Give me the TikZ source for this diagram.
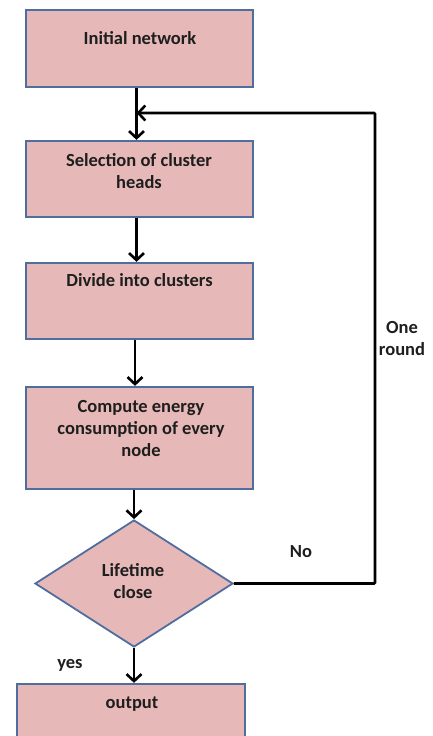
\documentclass[tikz,border=0pt]{standalone}
\usepackage{fontspec}
\setmainfont{Carlito}
\usetikzlibrary{shapes.geometric,arrows.meta}
\definecolor{boxfill}{HTML}{E6B9B8}
\definecolor{boxline}{HTML}{4F6D9E}
\definecolor{txt}{HTML}{1E1E1E}
\tikzset{
  box/.style={draw=boxline,fill=boxfill,line width=2.3pt,minimum width=227pt,inner sep=0pt},
  dia/.style={diamond,draw=boxline,fill=boxfill,line width=1.8pt,minimum width=198pt,minimum height=127pt,inner sep=0pt,aspect=1.56},
  lbl/.style={font=\bfseries\fontsize{18.5}{22}\selectfont,text=txt,align=center,inner sep=0pt,anchor=base},
  arr/.style={line width=2.6pt,black,-{Straight Barb[length=7pt,width=15pt,line width=2.6pt]}},
  ln/.style={line width=2.6pt,black}
}
\begin{document}
\begin{tikzpicture}[x=1pt,y=-1pt]
\useasboundingbox (0,0) rectangle (432,736);
\clip (0,0) rectangle (432,736);
\node[box,minimum height=77pt] (n1) at (139.5,48.5) {};
\node[box,minimum height=76pt] (n2) at (139.5,179) {};
\node[box,minimum height=76pt] (n3) at (139.5,301) {};
\node[box,minimum height=102pt] (n4) at (139.5,438) {};
\node[dia] (d) at (134,583.5) {};
\node[box,minimum width=228pt,minimum height=90pt] (n5) at (131,729) {};
\node[lbl] (t1) at (140,44) {Initial network};
\node[lbl] (t2) at (139,188) {Selection of cluster\\heads};
\node[lbl] (t3) at (139.5,286) {Divide into clusters};
\node[lbl] (t4) at (141,456) {Compute energy\\consumption of every\\node};
\node[lbl] (t5) at (133,598) {Lifetime\\close};
\node[lbl] (t6) at (132,708) {output};
\node[lbl] (one) at (402,355) {One\\round};
\node[lbl] (no) at (301,557) {No};
\node[lbl] (yes) at (70,668) {yes};
\coordinate (m) at (136.5,113);
\coordinate (corner) at (375,113);
\draw[arr] (n1.south -| m) -- (n2.north -| m);
\draw[arr] (n2.south -| m) -- (n3.north -| m);
\draw[arr] (n3.south -| 135,0) -- (n4.north -| 135,0);
\draw[arr] (n4.south -| d.north) -- (d.north);
\draw[arr] (d.south) -- (n5.north -| d.south);
\draw[arr,rounded corners=1pt] (d.east) -| (corner) -- (m);
\end{tikzpicture}
\end{document}
